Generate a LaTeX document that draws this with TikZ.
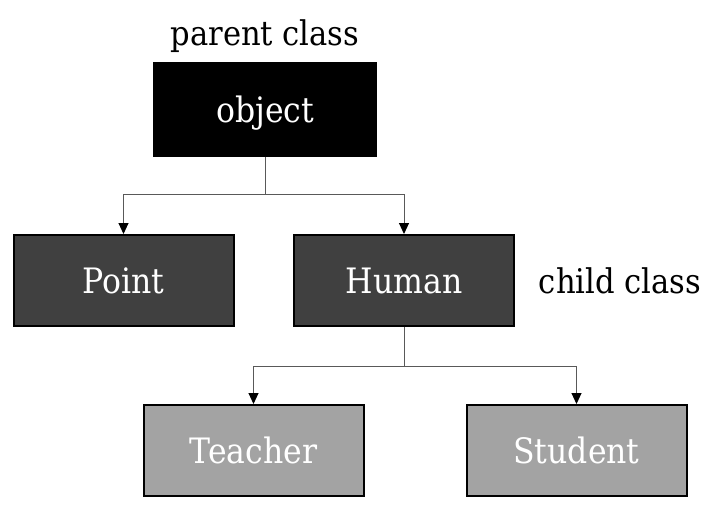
\documentclass[tikz,border=0pt]{standalone}
\usepackage{fontspec}
\setmainfont{DejaVu Serif Condensed}
\usetikzlibrary{arrows.meta}
\begin{document}
\begin{tikzpicture}[x=1pt,y=1pt,
  box/.style={draw=black,line width=2pt,minimum width=220pt,minimum height=91pt,inner sep=0pt,text=white,text depth=0pt,font=\fontsize{35}{38}\selectfont},
  top/.style={box,fill=black,draw=black,minimum width=222pt,minimum height=93pt},
  mid/.style={box,fill=black!75},
  low/.style={box,fill=black!36},
  lbl/.style={font=\fontsize{34}{37}\selectfont,inner sep=0pt},
  conn/.style={line width=1pt,draw=black!65},
  arr/.style={conn,-{Triangle[length=11pt,width=10pt,color=black]}}]
\useasboundingbox (0,0) rectangle (725,515);
\node[top] (obj) at (265,405.5) {object};
\node[mid] (pt) at (123.5,234.5) {Point};
\node[mid] (hu) at (404,234.5) {Human};
\node[low] (te) at (253.5,64.5) {Teacher};
\node[low] (st) at (576.5,64.5) {Student};
\node[lbl] (pc) at (265,479) {parent class};
\node[lbl] (cc) at (620,234) {child class};
\coordinate (j1) at (265,321);
\coordinate (j2) at (404,149);
\draw[conn] (obj.south) -- (j1);
\draw[arr] (j1) -| (pt.north);
\draw[arr] (j1) -| (hu.north);
\draw[conn] (hu.south) -- (j2);
\draw[arr] (j2) -| (te.north);
\draw[arr] (j2) -| (st.north);
\end{tikzpicture}
\end{document}
